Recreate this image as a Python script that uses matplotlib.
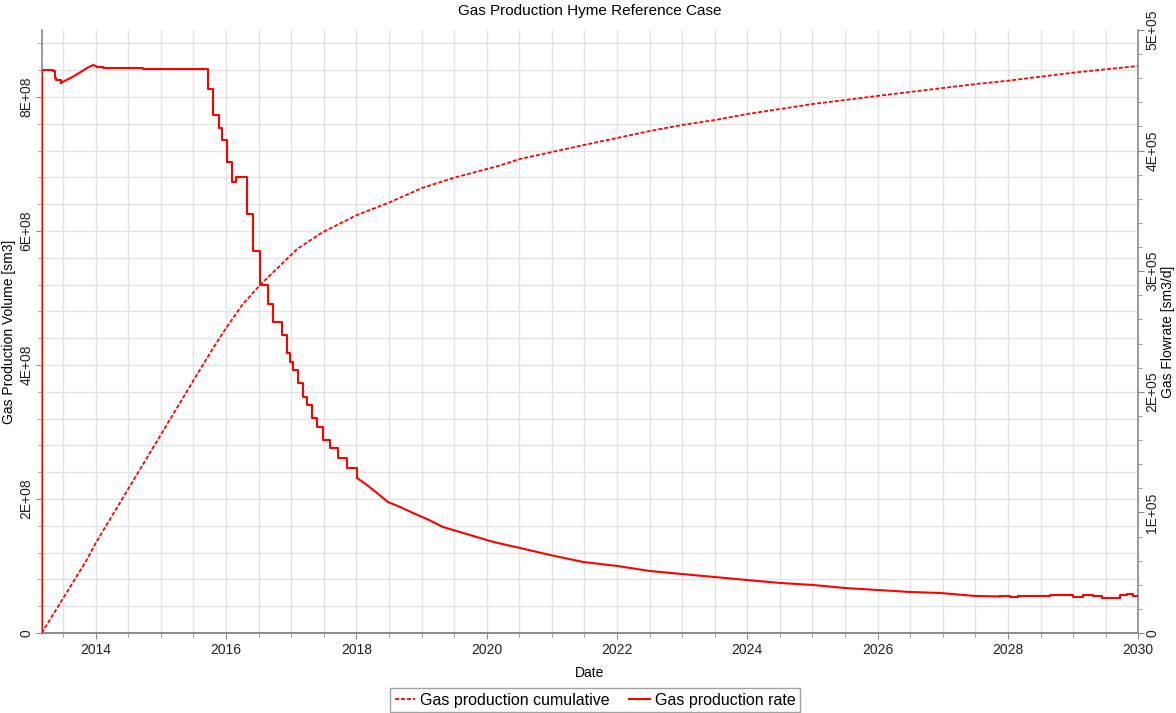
import matplotlib
matplotlib.use("Agg")
import matplotlib.pyplot as plt
from matplotlib.ticker import MultipleLocator, FuncFormatter
from matplotlib.lines import Line2D

plt.rcParams['font.family'] = ['Liberation Sans', 'DejaVu Sans']

# ---- data (decimal years) ----
rate_years = [2013.171, 2013.171, 2013.349, 2013.368, 2013.391, 2013.467, 2013.606, 2013.759,
              2013.866, 2013.963, 2014.020, 2014.112, 2014.250, 2014.726, 2015.728, 2015.805,
              2015.897, 2015.943, 2016.010, 2016.087, 2016.153, 2016.314, 2016.414, 2016.522,
              2016.644, 2016.721, 2016.859, 2016.936, 2016.982, 2017.028, 2017.105, 2017.181,
              2017.243, 2017.320, 2017.396, 2017.488, 2017.596, 2017.718, 2017.857, 2018.010,
              2018.163, 2018.317, 2018.486, 2018.670, 2018.869, 2019.084, 2019.330, 2019.591,
              2019.898, 2020.051, 2020.174, 2020.512, 2020.972, 2021.479, 2022.000, 2022.507,
              2022.998, 2023.505, 2023.996, 2024.502, 2025.009, 2025.500, 2025.991, 2026.497,
              2026.958, 2027.495, 2027.879, 2028.032, 2028.155, 2028.646, 2029.000, 2029.153,
              2029.307, 2029.445, 2029.721, 2029.829, 2029.921, 2030.000]
rate_values = [0.0, 4.668, 4.664, 4.602, 4.585, 4.563, 4.600, 4.648,
               4.685, 4.710, 4.696, 4.688, 4.682, 4.677, 4.508, 4.295,
               4.190, 4.088, 3.908, 3.742, 3.779, 3.474, 3.167, 2.886,
               2.728, 2.579, 2.471, 2.322, 2.247, 2.181, 2.073, 1.957,
               1.891, 1.783, 1.708, 1.600, 1.534, 1.451, 1.368, 1.285,
               1.227, 1.161, 1.086, 1.045, 0.995, 0.945, 0.879, 0.837,
               0.788, 0.763, 0.746, 0.705, 0.647, 0.589, 0.556, 0.514,
               0.489, 0.464, 0.439, 0.415, 0.398, 0.373, 0.357, 0.340,
               0.332, 0.307, 0.303, 0.296, 0.309, 0.318, 0.301, 0.318,
               0.307, 0.290, 0.315, 0.321, 0.307, 0.307]  # x 1E+05 sm3/d

cum_years = [2013.171, 2013.862, 2014.0, 2015.0, 2015.5, 2015.803, 2016.0, 2016.25,
             2016.522, 2017.090, 2017.488, 2018.010, 2018.486, 2019.008, 2019.484,
             2020.174, 2020.512, 2021.003, 2021.494, 2022.0, 2022.507, 2022.998,
             2023.505, 2023.996, 2024.502, 2025.009, 2025.5, 2025.991, 2026.497,
             2027.51, 2028.0, 2029.0, 2030.0]
cum_values = [0.0, 1.090, 1.343, 2.961, 3.770, 4.254, 4.55, 4.90,
              5.194, 5.731, 5.985, 6.239, 6.418, 6.642, 6.791,
              6.970, 7.075, 7.179, 7.284, 7.388, 7.493, 7.582,
              7.657, 7.746, 7.821, 7.896, 7.955, 8.015, 8.075,
              8.194, 8.243, 8.363, 8.463]  # x 1E+08 sm3

x_ticks = [2014, 2016, 2018, 2020, 2022, 2024, 2026, 2028, 2030]

fig = plt.figure(figsize=(11.76, 7.13), dpi=100)
ax = fig.add_axes([41.7/1176, 1 - 633/713, (1138.3 - 41.7)/1176, (633 - 30)/713])
ax2 = ax.twinx()

red = '#FF0000'
ax.plot(cum_years, [v * 1e8 for v in cum_values], color=red, lw=1.3,
        dashes=(2.2, 1.1), zorder=3)

# rate: stepped where the source steps visibly, joined where the readings are sparse
ry = rate_years
rv = [v * 1e5 for v in rate_values]
i_rise0 = 5    # 2013.467 start of the gradual recovery
i_rise1 = 10   # 2014.020
i_sm0 = 39     # 2018.010 start of the smoother decline
i_sm1 = 66     # 2027.879
ax2.step(ry[:i_rise0 + 1], rv[:i_rise0 + 1], where='post', color=red, lw=1.5, zorder=3)
ax2.plot(ry[i_rise0:i_rise1 + 1], rv[i_rise0:i_rise1 + 1], color=red, lw=1.5, zorder=3)
ax2.step(ry[i_rise1:i_sm0 + 1], rv[i_rise1:i_sm0 + 1], where='post', color=red, lw=1.5, zorder=3)
ax2.plot(ry[i_sm0:i_sm1 + 1], rv[i_sm0:i_sm1 + 1], color=red, lw=1.5, zorder=3)
ax2.step(ry[i_sm1:], rv[i_sm1:], where='post', color=red, lw=1.5, zorder=3)

ax.set_xlim(2013.171, 2030.0)
ax.set_ylim(0, 9e8)
ax2.set_ylim(0, 5e5)

ax.set_xticks(x_ticks)
ax.set_xticklabels([str(t) for t in x_ticks])
ax.xaxis.set_minor_locator(MultipleLocator(0.5))
ax.yaxis.set_major_locator(MultipleLocator(2e8))
ax.yaxis.set_minor_locator(MultipleLocator(4e7))
ax2.yaxis.set_major_locator(MultipleLocator(1e5))
ax2.yaxis.set_minor_locator(MultipleLocator(2e4))

def sci(v, pos):
    if abs(v) < 1e-9:
        return '0'
    return f"{v:.0E}"

ax.yaxis.set_major_formatter(FuncFormatter(sci))
ax2.yaxis.set_major_formatter(FuncFormatter(sci))

ax.grid(True, which='both', color='#e3e3e3', lw=1.0, zorder=0)
ax.set_axisbelow(True)

gray = '#8a8a8a'
for a in (ax, ax2):
    a.spines['top'].set_visible(False)
    for s in ('left', 'right', 'bottom'):
        a.spines[s].set_color(gray)
        a.spines[s].set_linewidth(1.2)
    a.tick_params(which='both', colors=gray, labelcolor='#222222', labelsize=10)
    a.tick_params(which='major', length=4)
    a.tick_params(which='minor', length=3)
ax.tick_params(axis='y', which='major', pad=2)
ax2.tick_params(axis='y', which='major', pad=1)
ax.spines['right'].set_visible(False)
ax2.spines['left'].set_visible(False)

for lab in ax.get_yticklabels():
    lab.set_rotation(90)
    lab.set_va('center')
for lab in ax2.get_yticklabels():
    lab.set_rotation(90)
    lab.set_va('center')

ax.set_xlabel('Date', fontsize=10, labelpad=6)
ax.set_ylabel('Gas Production Volume [sm3]', fontsize=10, va='center', ha='center')
ax.yaxis.set_label_coords(-0.030, 0.5)
ax2.set_ylabel('Gas Flowrate [sm3/d]', fontsize=10, rotation=90, va='center', ha='center')
ax2.yaxis.set_label_coords(1.0275, 0.5)
ax.set_title('Gas Production Hyme Reference Case', fontsize=11, pad=11)

handles = [Line2D([], [], color=red, lw=1.3, dashes=(2.2, 1.1)),
           Line2D([], [], color=red, lw=1.5)]
leg = fig.legend(handles, ['Gas production cumulative', 'Gas production rate'],
                 loc='center', bbox_to_anchor=(595/1176, 1 - 700/713), ncol=2,
                 fontsize=11.5, frameon=True, fancybox=False, handlelength=1.3,
                 handletextpad=0.3, columnspacing=1.2, borderpad=0.3)
leg.get_frame().set_edgecolor('#8a8a8a')
leg.get_frame().set_linewidth(1.0)

fig.savefig('out.png', dpi=100)
